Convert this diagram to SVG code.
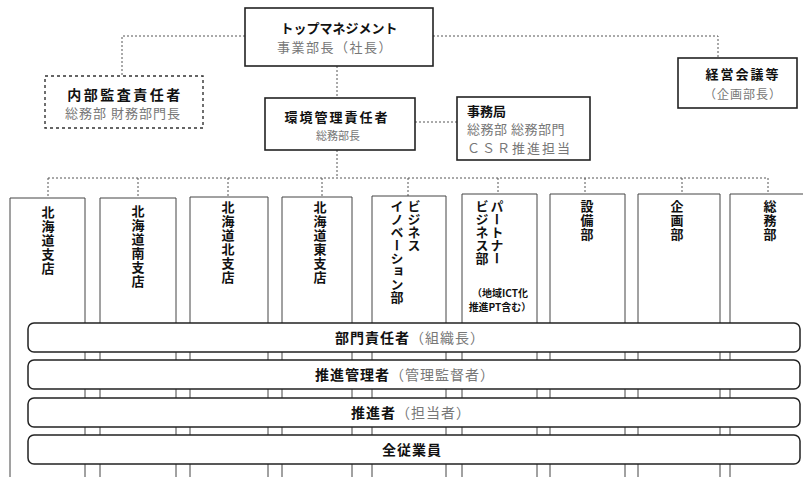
<svg xmlns="http://www.w3.org/2000/svg" width="803" height="477" viewBox="0 0 803 477">
<style>
text{font-family:"Noto Sans CJK JP","Noto Sans",sans-serif;fill:#111}
.b{font-weight:bold}
.g{fill:#777}
.box{fill:#fff;stroke:#222;stroke-width:1.6}
.dbox{fill:#fff;stroke:#333;stroke-width:1.4;stroke-dasharray:3 3}
.col{fill:none;stroke:#444;stroke-width:1}
.bar{fill:#fff;stroke:#222;stroke-width:1.5}
.con{fill:none;stroke:#555;stroke-width:1;stroke-dasharray:2 2}
.v{writing-mode:vertical-rl;font-weight:bold;font-size:13px}
</style>
<rect width="803" height="477" fill="#fff"/>
<g id="connectors">
<path class="con" d="M245 36 H122 V76"/>
<path class="con" d="M433 36 H718 V58"/>
<path class="con" d="M337 66 V98"/>
<path class="con" d="M415 122 H457"/>
<path class="con" d="M337 150 V178"/>
<path class="con" d="M48 178 H768"/>
<path class="con" d="M48 178 V198 M138 178 V198 M228 178 V198 M322 178 V197 M408 178 V196 M498 178 V194 M585 178 V194 M682 178 V194 M768 178 V194"/>
</g>
<g id="top">
<rect class="box" x="245" y="8" width="188" height="58" stroke-width="2.2"/>
<text class="b" x="339" y="33" font-size="13" text-anchor="middle">トップマネジメント</text>
<text class="g" x="335" y="52" font-size="13" text-anchor="middle" letter-spacing="1.5">事業部長（社長）</text>
</g>
<g id="audit">
<rect class="dbox" x="45" y="76" width="158" height="52"/>
<text class="b" x="125" y="100" font-size="14" text-anchor="middle" letter-spacing="2.5">内部監査責任者</text>
<text class="g" x="123" y="118" font-size="13" text-anchor="middle" letter-spacing="1">総務部 財務部門長</text>
</g>
<g id="env">
<rect class="box" x="265" y="98" width="150" height="52"/>
<text class="b" x="337" y="122" font-size="13" text-anchor="middle" letter-spacing="2">環境管理責任者</text>
<text class="g" x="338" y="140" font-size="11" text-anchor="middle">総務部長</text>
</g>
<g id="secretariat">
<rect class="box" x="457" y="97" width="133" height="63"/>
<text class="b" x="467" y="116" font-size="13">事務局</text>
<text class="g" x="467" y="134" font-size="13" letter-spacing="0.5">総務部 総務部門</text>
<text class="g" x="467" y="153" font-size="13" letter-spacing="2">ＣＳＲ推進担当</text>
</g>
<g id="mgmt">
<rect class="box" x="678" y="58" width="119" height="50"/>
<text class="b" x="743" y="79" font-size="13" text-anchor="middle" letter-spacing="2">経営会議等</text>
<text class="g" x="743" y="99" font-size="12" text-anchor="middle" letter-spacing="1">（企画部長）</text>
</g>
<g id="columns">
<path class="col" d="M10 477 V198 H85 V477"/>
<path class="col" d="M100 477 V198 H176 V477"/>
<path class="col" d="M190 477 V197 H268 V477"/>
<path class="col" d="M282 477 V197 H352 V477"/>
<path class="col" d="M372 477 V196 H446 V477"/>
<path class="col" d="M462 477 V194 H537 V477"/>
<path class="col" d="M550 477 V194 H625 V477"/>
<path class="col" d="M638 477 V194 H720 V477"/>
<path class="col" d="M730 477 V194 H803"/>
</g>
<g id="c1"><text class="v" x="48" y="206" letter-spacing="1">北海道支店</text></g>
<g id="c2"><text class="v" x="138" y="205" letter-spacing="1">北海道南支店</text></g>
<g id="c3"><text class="v" x="228" y="201" letter-spacing="1">北海道北支店</text></g>
<g id="c4"><text class="v" x="320" y="201" letter-spacing="1">北海道東支店</text></g>
<g id="c5"><text class="v" x="414" y="200">ビジネス</text><text class="v" x="397" y="200">イノベーション部</text></g>
<g id="c6"><text class="v" x="497" y="200">パートナー</text><text class="v" x="482" y="200">ビジネス部</text>
<text class="b" x="500" y="297" font-size="10" text-anchor="middle">（地域ICT化</text>
<text class="b" x="500" y="311" font-size="10" text-anchor="middle">推進PT含む）</text></g>
<g id="c7"><text class="v" x="587" y="200" letter-spacing="1">設備部</text></g>
<g id="c8"><text class="v" x="677" y="200" letter-spacing="1">企画部</text></g>
<g id="c9"><text class="v" x="770" y="200" letter-spacing="1">総務部</text></g>
<g id="bar1"><rect class="bar" x="28" y="323" width="772" height="29" rx="6"/>
<text x="410" y="343" font-size="14" text-anchor="middle" letter-spacing="1"><tspan class="b">部門責任者</tspan><tspan class="g">（組織長）</tspan></text></g>
<g id="bar2"><rect class="bar" x="28" y="360" width="772" height="29" rx="6"/>
<text x="405" y="380" font-size="14" text-anchor="middle" letter-spacing="1"><tspan class="b">推進管理者</tspan><tspan class="g">（管理監督者）</tspan></text></g>
<g id="bar3"><rect class="bar" x="28" y="398" width="772" height="29" rx="6"/>
<text x="411" y="418" font-size="14" text-anchor="middle" letter-spacing="1"><tspan class="b">推進者</tspan><tspan class="g">（担当者）</tspan></text></g>
<g id="bar4"><rect class="bar" x="28" y="435" width="772" height="29" rx="6"/>
<text class="b" x="412" y="455" font-size="14" text-anchor="middle" letter-spacing="1">全従業員</text></g>
</svg>
